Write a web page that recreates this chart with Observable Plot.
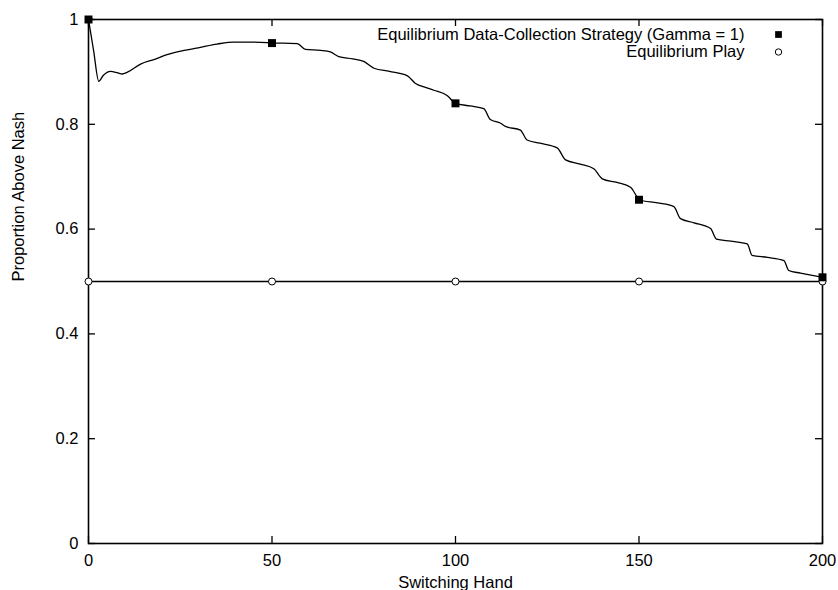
<!DOCTYPE html>
<html>
<head>
<meta charset="utf-8">
<script src="https://cdn.jsdelivr.net/npm/d3@7"></script>
<script src="https://cdn.jsdelivr.net/npm/@observablehq/plot@0.6"></script>
<style>
  html, body { margin: 0; padding: 0; background: #fff; }
  #chart svg { display: block; }
</style>
</head>
<body>
<div id="chart"></div>
<script>
// Data-collection strategy curve (Gamma = 1)
const strategyX = [0, 1.4, 2.8, 4, 6, 8, 9.2, 10.5, 14.2, 18, 21.4, 26, 30.5, 35, 39.5, 44, 48.7, 50, 53, 56.9, 59.1, 63.2, 65.9, 68.2, 72, 75, 77.8, 82, 86.8, 89.1, 92, 94.1, 97.7, 100, 104, 107.7, 109.5, 112.3, 113.6, 117.7, 119.5, 123, 127.7, 130, 134, 137.7, 140, 144, 147.7, 149.5, 150, 155, 159.5, 161.3, 165, 169.5, 171.1, 175, 179.5, 180.8, 185, 189.5, 190.8, 194, 197.6, 200];
const strategyY = [1.0, 0.94, 0.882, 0.893, 0.901, 0.898, 0.896, 0.899, 0.915, 0.924, 0.933, 0.941, 0.947, 0.953, 0.957, 0.957, 0.956, 0.955, 0.955, 0.954, 0.943, 0.941, 0.938, 0.929, 0.925, 0.920, 0.907, 0.901, 0.893, 0.878, 0.870, 0.865, 0.855, 0.840, 0.835, 0.830, 0.809, 0.802, 0.796, 0.789, 0.770, 0.764, 0.755, 0.732, 0.724, 0.715, 0.696, 0.689, 0.680, 0.661, 0.656, 0.650, 0.643, 0.620, 0.612, 0.601, 0.581, 0.577, 0.572, 0.550, 0.546, 0.540, 0.521, 0.516, 0.511, 0.508];

// Marker points
const markerX = [0, 50, 100, 150, 200];
const strategyMarkerY = [1.0, 0.955, 0.840, 0.656, 0.508];
const playY = [0.5, 0.5, 0.5, 0.5, 0.5];

// Ticks and labels
const xTicks = [0, 50, 100, 150, 200];
const yTicks = [0, 0.2, 0.4, 0.6, 0.8, 1];
const legendLabels = ["Equilibrium Data-Collection Strategy (Gamma = 1)", "Equilibrium Play"];
const xLabel = "Switching Hand";
const yLabel = "Proportion Above Nash";

const strategy = strategyX.map((x, i) => ({x, y: strategyY[i]}));
const strategyMarkers = markerX.map((x, i) => ({x, y: strategyMarkerY[i]}));
const play = markerX.map((x, i) => ({x, y: playY[i]}));

const W = 838, H = 590;
const mL = 88, mR = 16, mT = 19, mB = 47;
const pw = W - mL - mR, ph = H - mT - mB;
const tick = 7;
const fs = 16.5;
const font = "'Liberation Sans', Arial, Helvetica, sans-serif";

const chart = Plot.plot({
  width: W,
  height: H,
  marginLeft: mL,
  marginRight: mR,
  marginTop: mT,
  marginBottom: mB,
  style: {fontFamily: font, fontSize: fs + "px", color: "#000", background: "#fff"},
  x: {domain: [0, 200]},
  y: {domain: [0, 1]},
  marks: [
    // axis labels (bottom & left) without ticks
    Plot.axisX(xTicks, {anchor: "bottom", tickSize: 0, tickPadding: 11, fontSize: fs, label: null}),
    Plot.axisY(yTicks, {anchor: "left", tickSize: 0, tickPadding: 10, fontSize: fs, label: null, tickFormat: d => String(d)}),
    // inward ticks on all four sides
    Plot.tickX(xTicks, {x: d => d, insetTop: ph - tick, stroke: "#000", strokeWidth: 1.3}),
    Plot.tickX(xTicks, {x: d => d, insetBottom: ph - tick, stroke: "#000", strokeWidth: 1.3}),
    Plot.tickY(yTicks, {y: d => d, insetRight: pw - tick, stroke: "#000", strokeWidth: 1.3}),
    Plot.tickY(yTicks, {y: d => d, insetLeft: pw - tick, stroke: "#000", strokeWidth: 1.3}),
    Plot.frame({stroke: "#000", strokeWidth: 1.6}),
    // series
    Plot.line(play, {x: "x", y: "y", stroke: "#000", strokeWidth: 1.3}),
    Plot.line(strategy, {x: "x", y: "y", stroke: "#000", strokeWidth: 1.3, curve: "monotone-x"}),
    Plot.dot(play, {x: "x", y: "y", r: 3.5, stroke: "#000", fill: "#fff", strokeWidth: 1}),
    Plot.dot(strategyMarkers, {x: "x", y: "y", symbol: "square", r: 4.5, fill: "#000", stroke: "none"}),
    // legend
    Plot.text([legendLabels[0]], {frameAnchor: "top-right", dx: -78, dy: 15, textAnchor: "end", lineAnchor: "middle", fontSize: fs, fill: "#000"}),
    Plot.dot([legendLabels[0]], {frameAnchor: "top-right", dx: -44, dy: 15, symbol: "square", r: 3.8, fill: "#000", stroke: "none"}),
    Plot.text([legendLabels[1]], {frameAnchor: "top-right", dx: -78, dy: 32.5, textAnchor: "end", lineAnchor: "middle", fontSize: fs, fill: "#000"}),
    Plot.dot([legendLabels[1]], {frameAnchor: "top-right", dx: -44, dy: 32.5, r: 3.2, fill: "#fff", stroke: "#000", strokeWidth: 1}),
    // axis titles
    Plot.text([xLabel], {frameAnchor: "bottom", dy: 39, lineAnchor: "middle", fontSize: fs, fill: "#000"}),
    Plot.text([yLabel], {frameAnchor: "left", dx: -70, rotate: -90, lineAnchor: "middle", fontSize: fs, fill: "#000"})
  ]
});
document.getElementById("chart").appendChild(chart);
</script>
</body>
</html>
